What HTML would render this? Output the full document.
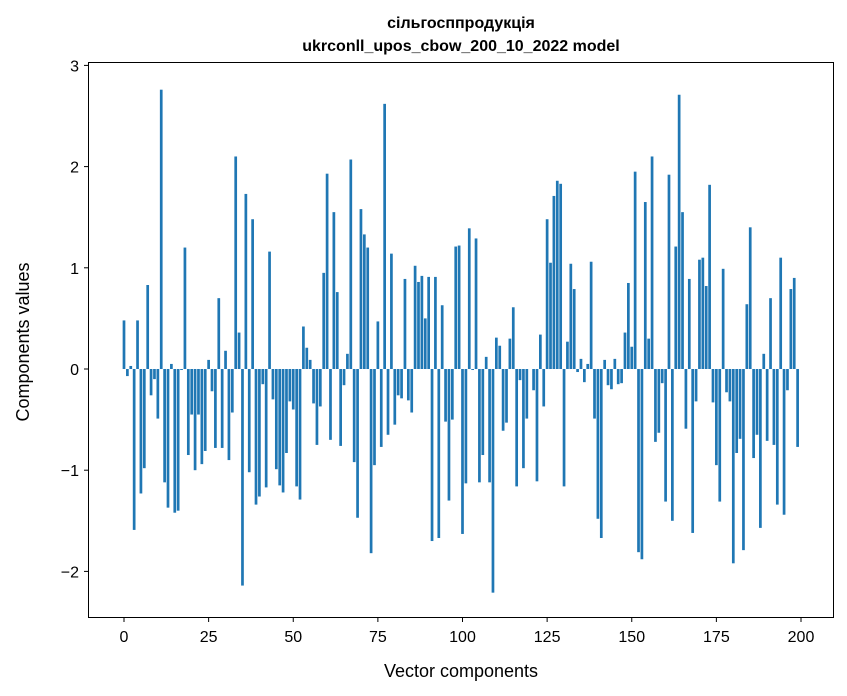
<!DOCTYPE html>
<html><head><meta charset="utf-8"><style>
body{margin:0;background:#fff;width:847px;height:696px;overflow:hidden}
svg{display:block;font-family:"Liberation Sans","DejaVu Sans",sans-serif}
</style></head><body>
<svg id="chart" width="847" height="696">
<text x="461" y="28" text-anchor="middle" font-size="16" font-weight="bold">сільгосппродукція</text>
<text x="461" y="51" text-anchor="middle" font-size="16" font-weight="bold">ukrconll_upos_cbow_200_10_2022 model</text>
<g id="bars"></g>
<rect x="88.5" y="62.5" width="745" height="555" fill="none" stroke="#000" stroke-width="1"/>
<g id="xticks"></g>
<g id="yticks"></g>
<text x="461" y="677" text-anchor="middle" font-size="18">Vector components</text>
<text transform="translate(29,342) rotate(-90)" text-anchor="middle" font-size="18">Components values</text>
</svg>
<script>
const values = [0.48,-0.07,0.03,-1.59,0.48,-1.23,-0.98,0.83,-0.26,-0.1,-0.49,2.76,-1.12,-1.37,0.05,-1.42,-1.40,-0.01,1.20,-0.85,
-0.45,-1.0,-0.45,-0.94,-0.81,0.09,-0.22,-0.78,0.70,-0.78,0.18,-0.90,-0.43,2.10,0.36,-2.14,1.73,-1.02,1.48,-1.34,
-1.26,-0.15,-1.17,1.16,-0.30,-0.99,-1.15,-1.22,-0.83,-0.32,-0.40,-1.16,-1.29,0.42,0.21,0.09,-0.34,-0.75,-0.37,0.95,
1.93,-0.70,1.55,0.76,-0.76,-0.16,0.15,2.07,-0.92,-1.47,1.58,1.33,1.20,-1.82,-0.95,0.47,-0.77,2.62,-0.65,1.14,
-0.55,-0.26,-0.29,0.89,-0.31,-0.43,1.02,0.86,0.92,0.50,0.91,-1.70,0.91,-1.67,0.63,-0.52,-1.30,-0.50,1.21,1.22,
-1.63,-1.13,1.39,-0.01,1.29,-1.12,-0.85,0.12,-1.12,-2.21,0.31,0.23,-0.61,-0.53,0.30,0.61,-1.16,-0.11,-0.98,-0.49,
0.0,-0.21,-1.11,0.34,-0.37,1.48,1.05,1.71,1.86,1.83,-1.16,0.27,1.04,0.79,-0.03,0.10,-0.13,0.05,1.06,-0.49,
-1.48,-1.67,0.09,-0.16,-0.20,0.10,-0.15,-0.14,0.36,0.85,0.22,1.95,-1.81,-1.88,1.65,0.30,2.10,-0.72,-0.63,-0.14,
-1.31,1.92,-1.50,1.21,2.71,1.55,-0.59,0.89,-1.62,-0.32,1.08,1.10,0.82,1.82,-0.33,-0.95,-1.31,0.99,-0.23,-0.32,
-1.92,-0.83,-0.69,-1.79,0.64,1.40,-0.88,-0.65,-1.57,0.15,-0.71,0.70,-0.75,-1.34,1.10,-1.44,-0.21,0.79,0.90,-0.77];
const xTicks = [0,25,50,75,100,125,150,175,200];
const yTicks = [-2,-1,0,1,2,3];
const yTickLabels = ["\u22122","\u22121","0","1","2","3"];
const NS="http://www.w3.org/2000/svg";
const xScale = v => 124 + v*(801-124)/200;
const yScale = v => 369 - v*101.2;
const bw = 0.8*(801-124)/200;
const bars=document.getElementById('bars');
values.forEach((v,i)=>{
  const r=document.createElementNS(NS,'rect');
  const y0=yScale(Math.max(v,0)), y1=yScale(Math.min(v,0));
  r.setAttribute('x',xScale(i)-bw/2);
  r.setAttribute('y',y0);
  r.setAttribute('width',bw);
  r.setAttribute('height',Math.max(y1-y0,0.01));
  r.setAttribute('fill','#1f77b4');
  
  
  bars.appendChild(r);
});
const xg=document.getElementById('xticks');
xTicks.forEach(t=>{
  const x=xScale(t);
  const l=document.createElementNS(NS,'line');
  l.setAttribute('x1',x);l.setAttribute('x2',x);l.setAttribute('y1',617.5);l.setAttribute('y2',622);
  l.setAttribute('stroke','#000');
  
  
  xg.appendChild(l);
  const tx=document.createElementNS(NS,'text');
  tx.setAttribute('x',x);tx.setAttribute('y',642);tx.setAttribute('text-anchor','middle');tx.setAttribute('font-size','16');
  tx.textContent=t;
  
  
  xg.appendChild(tx);
});
const yg=document.getElementById('yticks');
yTicks.forEach((t,i)=>{
  const y=yScale(t);
  const l=document.createElementNS(NS,'line');
  l.setAttribute('x1',84);l.setAttribute('x2',88.5);l.setAttribute('y1',y);l.setAttribute('y2',y);
  l.setAttribute('stroke','#000');
  
  
  yg.appendChild(l);
  const tx=document.createElementNS(NS,'text');
  tx.setAttribute('x',79);tx.setAttribute('y',y+6);tx.setAttribute('text-anchor','end');tx.setAttribute('font-size','16');
  tx.textContent=yTickLabels[i];
  
  
  yg.appendChild(tx);
});
</script>
</body></html>
